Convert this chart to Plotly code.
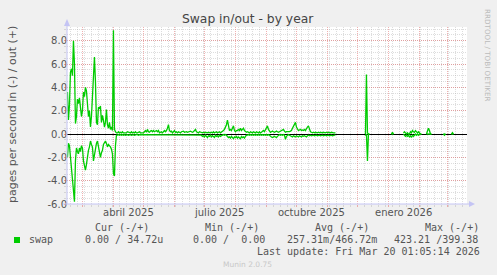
import pandas as pd
import plotly.graph_objects as go

# ---------------- data ----------------
dates = pd.date_range("2025-02-13 12:00", periods=400, freq="D")

out_active = [3.6, 1.2, 2.5, 5.3, 5.6, 5.0, 8.0, 6.0, 0.9, 1.5,
              3.0, 2.6, 3.1, 2.3, 1.5, 2.0, 3.6, 3.2, 4.0, 3.7,
              2.6, 1.5, 2.0, 0.6, 1.5, 3.5, 5.8, 6.6, 4.5, 1.0,
              0.8, 2.3, 2.2, 2.4, 1.0, 1.6, 1.2, 0.6, 1.0, 2.1,
              0.8, 0.5, 1.0, 0.4, 0.6, 0.3, 8.9, 0.4, 0.2, 0.1]
in_active = [2.0, 0.8, 1.0, 2.0, 2.6, 3.4, 4.5, 5.8, 2.3, 1.2,
             1.5, 1.7, 1.2, 1.5, 1.0, 1.2, 2.3, 2.8, 3.1, 2.6,
             1.7, 1.4, 1.1, 0.6, 0.9, 1.1, 2.3, 1.8, 1.1, 0.8,
             0.6, 1.1, 1.5, 2.0, 1.6, 1.4, 0.9, 0.7, 0.6, 0.8,
             1.1, 0.9, 1.0, 1.1, 1.3, 1.7, 3.4, 3.6, 1.0, 0.1]

out_noise = [0.1, 0.2, 0.1, 0.15, 0.1, 0.2, 0.1, 0.1, 0.15, 0.1,
             0.2, 0.15, 0.1, 0.1, 0.2, 0.1, 0.15, 0.1, 0.2, 0.1,
             0.1, 0.15, 0.2, 0.1, 0.1, 0.15, 0.1, 0.2, 0.3, 0.15,
             0.4, 0.2, 0.15, 0.25, 0.3, 0.2, 0.3, 0.2, 0.25, 0.3,
             0.2, 0.3, 0.1, 0.15, 0.2, 0.1, 0.2, 0.3, 0.2, 0.3,
             0.5, 0.8, 0.3, 0.2, 0.25, 0.1, 0.2, 0.3, 0.15, 0.2,
             0.1, 0.2, 0.15, 0.1, 0.2, 0.2, 0.25, 0.15, 0.2, 0.2,
             0.15, 0.2, 0.2, 0.25, 0.2, 0.15, 0.2, 0.3, 0.4, 0.2,
             0.15, 0.1, 0.2, 0.15, 0.1, 0.1, 0.15, 0.1, 0.15, 0.1,
             0.1, 0.15, 0.1, 0.1, 0.15, 0.1, 0.2, 0.1, 0.15, 0.2,
             0.1, 0.15, 0.2, 0.1, 0.15, 0.2, 0.3, 0.4, 0.6, 0.8,
             1.2, 0.5, 0.3, 0.4, 0.3, 0.5, 0.7, 0.3, 0.2, 0.3,
             0.3, 0.4, 0.3, 0.5, 0.3, 0.4, 0.5, 0.3, 0.2, 0.15,
             0.2, 0.15, 0.1, 0.2, 0.15, 0.1, 0.2, 0.15, 0.1, 0.2,
             0.15, 0.1, 0.2, 0.1, 0.15, 0.2, 0.3, 0.2, 0.4, 0.5,
             0.7, 0.4, 0.2, 0.15, 0.2, 0.25, 0.2, 0.15, 0.2, 0.25,
             0.2, 0.15, 0.2, 0.25, 0.3, 0.35, 0.4, 0.25, 0.15, 0.2,
             0.2, 0.15, 0.2, 0.25, 0.3, 0.5, 0.7, 0.9, 1.0, 0.6,
             0.4, 0.3, 0.35, 0.4, 0.3, 0.35, 0.3, 0.4, 0.3, 0.5,
             0.6, 0.7, 0.4, 0.2, 0.15, 0.1, 0.15, 0.1, 0.15, 0.1,
             0.1, 0.15, 0.1, 0.15, 0.1, 0.1, 0.15, 0.1, 0.1, 0.15,
             0.1, 0.15, 0.1, 0.1, 0.15, 0.1, 0.1, 0.1, 0.1]
in_noise = [0.1, 0.05, 0.1, 0.05, 0.1, 0.05, 0.1, 0.05, 0.1, 0.05,
            0.05, 0.1, 0.05, 0.05, 0.1, 0.05, 0.05, 0.1, 0.05, 0.05,
            0.05, 0.1, 0.05, 0.05, 0.1, 0.05, 0.1, 0.05, 0.05, 0.1,
            0.05, 0.1, 0.05, 0.1, 0.05, 0.05, 0.1, 0.05, 0.1, 0.05,
            0.1, 0.05, 0.05, 0.1, 0.05, 0.1, 0.05, 0.05, 0.1, 0.05,
            0.05, 0.1, 0.05, 0.1, 0.05, 0.1, 0.05, 0.1, 0.05, 0.1,
            0.05, 0.1, 0.05, 0.1, 0.05, 0.05, 0.1, 0.05, 0.1, 0.05,
            0.1, 0.05, 0.1, 0.05, 0.1, 0.05, 0.1, 0.05, 0.1, 0.05,
            0.1, 0.05, 0.1, 0.05, 0.1, 0.2, 0.15, 0.25, 0.1, 0.2,
            0.3, 0.15, 0.2, 0.1, 0.25, 0.15, 0.2, 0.3, 0.1, 0.2,
            0.15, 0.25, 0.1, 0.2, 0.15, 0.1, 0.05, 0.1, 0.05, 0.1,
            0.2, 0.3, 0.25, 0.35, 0.2, 0.3, 0.4, 0.25, 0.3, 0.2,
            0.35, 0.25, 0.3, 0.4, 0.2, 0.3, 0.25, 0.35, 0.2, 0.1,
            0.1, 0.05, 0.1, 0.05, 0.1, 0.05, 0.1, 0.05, 0.1, 0.05,
            0.1, 0.05, 0.1, 0.05, 0.1, 0.05, 0.1, 0.05, 0.1, 0.05,
            0.1, 0.05, 0.1, 0.2, 0.25, 0.3, 0.25, 0.2, 0.25, 0.3,
            0.2, 0.1, 0.05, 0.1, 0.05, 0.1, 0.05, 0.1, 0.45, 0.2,
            0.1, 0.05, 0.1, 0.15, 0.2, 0.25, 0.15, 0.2, 0.25, 0.15,
            0.2, 0.25, 0.15, 0.2, 0.25, 0.15, 0.2, 0.15, 0.2, 0.25,
            0.15, 0.1, 0.15, 0.1, 0.15, 0.1, 0.1, 0.15, 0.1, 0.1,
            0.15, 0.1, 0.1, 0.15, 0.1, 0.1, 0.15, 0.1, 0.1, 0.15,
            0.1, 0.1, 0.15, 0.1, 0.1, 0.15, 0.1, 0.1, 0.1]

out_spike = [0.0, 5.1, 0.1, 0.0, 0.0]
in_spike = [0.15, 0.0, 2.3, 0.0, 0.0]
out_s1 = [0.0, 0.15, 0.0]
in_s1 = [0.0, 0.0, 0.0]
out_s2 = [0.1, 0.2, 0.1, 0.0, 0.1, 0.0, 0.0, 0.2, 0.1, 0.3,
          0.2, 0.15, 0.3, 0.2, 0.1, 0.2, 0.1, 0.0, 0.0]
in_s2 = [0.0, 0.1, 0.2, 0.1, 0.2, 0.1, 0.25, 0.15, 0.3, 0.1,
         0.2, 0.1, 0.0, 0.1, 0.0, 0.1, 0.0, 0.0, 0.0]
out_s3 = [0.0, 0.2, 0.5, 0.3, 0.0, 0.0]
in_s3 = [0.0, 0.0, 0.0, 0.0, 0.0, 0.0]
out_s4 = [0.0, 0.0, 0.0]
in_s4 = [0.0, 0.1, 0.0]
out_s5 = [0.0, 0.12, 0.0]
in_s5 = [0.0, 0.0, 0.0]


def gap(n):
    return [None] * n


swap_out = (out_active + out_noise + gap(29) + out_spike + gap(21) + out_s1 + gap(9)
            + out_s2 + gap(4) + out_s3 + gap(11) + out_s4 + gap(5) + out_s5 + gap(13))
swap_in = (in_active + in_noise + gap(29) + in_spike + gap(21) + in_s1 + gap(9)
           + in_s2 + gap(4) + in_s3 + gap(11) + in_s4 + gap(5) + in_s5 + gap(13))
swap_in_neg = [None if v is None else -v for v in swap_in]

y_tickvals = [-6, -4, -2, 0, 2, 4, 6, 8]
y_ticktext = ["-6.0", "-4.0", "-2.0", "0.0", "2.0", "4.0", "6.0", "8.0"]
x_label_dates = ["2025-04-15 12:00", "2025-07-15 12:00", "2025-10-15 12:00", "2026-01-15 12:00"]
x_label_text = ["abril 2025", "julio 2025", "octubre 2025", "enero 2026"]

title = "Swap in/out - by year"
y_title = "pages per second in (-) / out (+)"
legend_headers = ["Cur (-/+)", "Min (-/+)", "Avg (-/+)", "Max (-/+)"]
legend_values = ["0.00 / 34.72u", "0.00 /  0.00", "257.31m/466.72m", "423.21 /399.38"]
last_update = "Last update: Fri Mar 20 01:05:14 2026"

# ---------------- layout geometry ----------------
W, H = 497, 275
L, R, T, B = 67, 30, 27, 71
PW, PH = W - L - R, H - T - B


def px(x):
    return (x - L) / PW


def py(y):
    return (H - B - y) / PH


GREEN = "#00CC00"
MGRID = "rgba(225,100,100,0.5)"
GRID = "rgba(170,170,170,0.4)"
AXIS = "#C4C4F4"
TXT = "#555555"
MONO = "DejaVu Sans Mono"
SANS = "DejaVu Sans"

fig = go.Figure()
fig.add_trace(go.Scatter(x=dates, y=swap_in_neg, mode="lines",
                         line=dict(color=GREEN, width=1.3), connectgaps=False,
                         hoverinfo="skip", showlegend=False))
fig.add_trace(go.Scatter(x=dates, y=swap_out, mode="lines",
                         line=dict(color=GREEN, width=1.3), connectgaps=False,
                         hoverinfo="skip", showlegend=False))

fig.update_layout(
    width=W, height=H,
    margin=dict(l=L, r=R, t=T, b=B, pad=0),
    paper_bgcolor="#F0F0F0", plot_bgcolor="#FFFFFF",
    showlegend=False,
    xaxis=dict(
        type="date",
        range=["2025-02-13 01:05", "2026-03-20 01:05"],
        tickmode="linear", tick0="2025-03-01", dtick="M1",
        showgrid=True, gridcolor=MGRID, griddash="1px,1px", gridwidth=1,
        showticklabels=False, ticks="outside", ticklen=2, tickcolor=MGRID,
        minor=dict(tickmode="linear", tick0="2025-02-17", dtick=7 * 86400000,
                   showgrid=True, gridcolor=GRID, griddash="1px,1px",
                   ticks="outside", ticklen=2, tickcolor=GRID),
        showline=False, zeroline=False, fixedrange=True,
    ),
    yaxis=dict(
        range=[-6, 9.18],
        tickmode="array", tickvals=y_tickvals, ticktext=y_ticktext,
        showgrid=True, gridcolor=MGRID, griddash="1px,1px", gridwidth=1,
        ticks="outside", ticklen=2, tickcolor=MGRID,
        ticklabelstandoff=-5,
        tickfont=dict(family=SANS, size=10, color=TXT),
        minor=dict(tickmode="linear", tick0=0, dtick=0.5,
                   showgrid=True, gridcolor=GRID, griddash="1px,1px",
                   ticks="outside", ticklen=2, tickcolor=GRID),
        zeroline=True, zerolinecolor="#000000", zerolinewidth=1,
        showline=False, fixedrange=True,
    ),
)

shapes = []
# axis lines with arrows
shapes.append(dict(type="line", xref="paper", yref="paper",
                   x0=px(67), x1=px(67), y0=py(204), y1=py(22),
                   line=dict(color=AXIS, width=1)))
shapes.append(dict(type="line", xref="paper", yref="paper",
                   x0=px(63), x1=px(470), y0=py(204), y1=py(204),
                   line=dict(color=AXIS, width=1)))
shapes.append(dict(type="path", xref="paper", yref="paper",
                   path=f"M {px(64)},{py(26)} L {px(70)},{py(26)} L {px(67)},{py(19)} Z",
                   fillcolor=AXIS, line=dict(width=0)))
shapes.append(dict(type="path", xref="paper", yref="paper",
                   path=f"M {px(469)},{py(201)} L {px(469)},{py(207)} L {px(475)},{py(204)} Z",
                   fillcolor=AXIS, line=dict(width=0)))
# legend swatch
shapes.append(dict(type="rect", xref="paper", yref="paper",
                   x0=px(14), x1=px(20), y0=py(243), y1=py(237),
                   fillcolor=GREEN, line=dict(width=0)))
fig.update_layout(shapes=shapes)

ann = []
ann.append(dict(text=title, x=px(247.5), y=py(19), xref="paper", yref="paper",
                xanchor="center", yanchor="middle", showarrow=False,
                font=dict(family=SANS, size=12.3, color="#444444")))
ann.append(dict(text=y_title, x=px(12), y=py(115), xref="paper", yref="paper",
                xanchor="center", yanchor="middle", showarrow=False, textangle=-90,
                font=dict(family=SANS, size=11, color=TXT)))
for d, t in zip(x_label_dates, x_label_text):
    ann.append(dict(text=t, x=d, y=py(212.5), xref="x", yref="paper",
                    xanchor="center", yanchor="middle", showarrow=False,
                    font=dict(family=SANS, size=10, color=TXT)))
ann.append(dict(text="RRDTOOL / TOBI OETIKER", x=px(488), y=py(55), xref="paper", yref="paper",
                xanchor="center", yanchor="middle", showarrow=False, textangle=90,
                font=dict(family=SANS, size=7.2, color="#BBBBBB")))

header_x = [93, 203, 313, 423]
value_x = [83, 191, 285, 392]
for xx, t in zip(header_x, legend_headers):
    ann.append(dict(text=t.replace(" ", "\u00a0"), x=px(xx), y=py(227.7), xref="paper", yref="paper",
                    xanchor="left", yanchor="middle", showarrow=False,
                    font=dict(family=MONO, size=10, color=TXT)))
ann.append(dict(text="swap", x=px(27), y=py(240), xref="paper", yref="paper",
                xanchor="left", yanchor="middle", showarrow=False,
                font=dict(family=MONO, size=10, color=TXT)))
for xx, t in zip(value_x, legend_values):
    ann.append(dict(text=t.replace(" ", "\u00a0"), x=px(xx), y=py(240), xref="paper", yref="paper",
                    xanchor="left", yanchor="middle", showarrow=False,
                    font=dict(family=MONO, size=10, color=TXT)))
ann.append(dict(text=last_update.replace(" ", "\u00a0"), x=px(482), y=py(251.7), xref="paper", yref="paper",
                xanchor="right", yanchor="middle", showarrow=False,
                font=dict(family=MONO, size=10, color=TXT)))
ann.append(dict(text="Munin 2.0.75", x=px(247.5), y=py(264), xref="paper", yref="paper",
                xanchor="center", yanchor="middle", showarrow=False,
                font=dict(family=SANS, size=7.5, color="#C8C8C8")))
fig.update_layout(annotations=ann)

fig.write_html("out.html", config={"displayModeBar": False})
